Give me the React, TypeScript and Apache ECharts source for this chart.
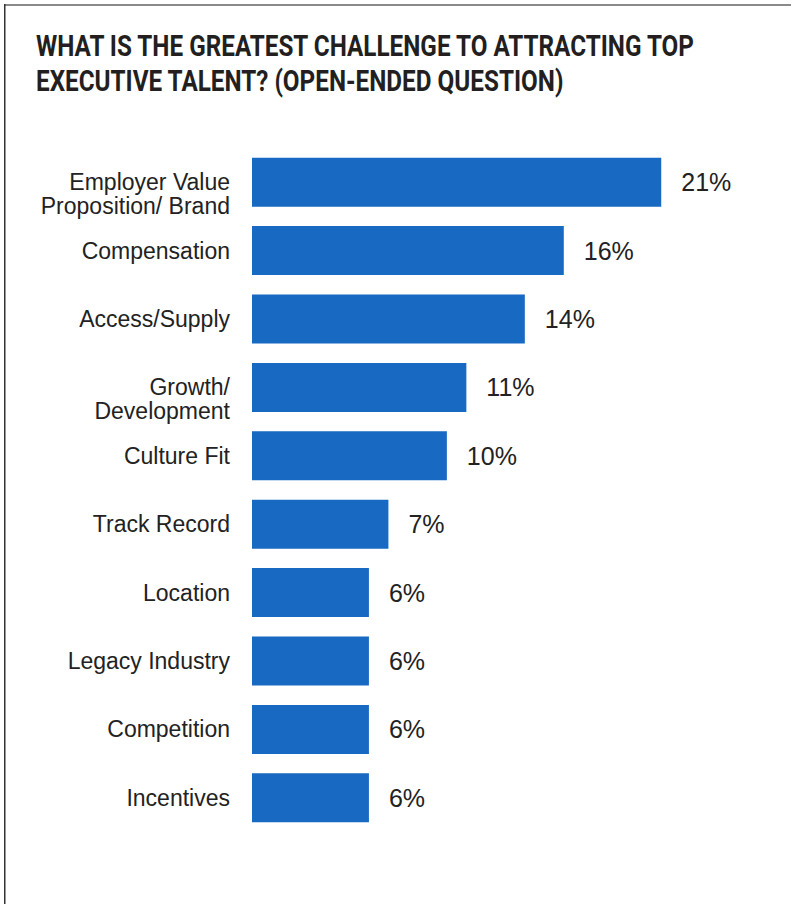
import React, { useEffect, useRef } from "react";
import * as echarts from "echarts";

const categories = [
  "Employer Value\nProposition/ Brand",
  "Compensation",
  "Access/Supply",
  "Growth/\nDevelopment",
  "Culture Fit",
  "Track Record",
  "Location",
  "Legacy Industry",
  "Competition",
  "Incentives",
];
const values = [21, 16, 14, 11, 10, 7, 6, 6, 6, 6];
const titleLines = [
  "WHAT IS THE GREATEST CHALLENGE TO ATTRACTING TOP",
  "EXECUTIVE TALENT? (OPEN-ENDED QUESTION)",
];

const TITLE_FONT = 'bold 29px Roboto, "Liberation Sans", sans-serif';

export default function App() {
  const ref = useRef<HTMLDivElement>(null);
  useEffect(() => {
    document.body.style.margin = "0";
    const cv = document.createElement("canvas").getContext("2d")!;
    cv.font = TITLE_FONT;
    const w = cv.measureText(titleLines[0]).width || 661;
    const sx = 661 / w;
    const chart = echarts.init(ref.current!, null, { renderer: "svg" });
    chart.setOption({
      animation: false,
      backgroundColor: "#ffffff",
      graphic: [
        { type: "rect", shape: { x: 4, y: 4, width: 787, height: 2 }, style: { fill: "#8a8a8a" } },
        { type: "rect", shape: { x: 4, y: 4, width: 1.5, height: 900 }, style: { fill: "#333333" } },
        {
          type: "text",
          x: 36,
          y: 29,
          scaleX: sx,
          style: {
            text: titleLines.join("\n"),
            font: TITLE_FONT,
            lineHeight: 35,
            fill: "#231f20",
          },
        },
      ],
      grid: { left: 252, right: 7, top: 148, height: 684, containLabel: false },
      xAxis: {
        type: "value",
        min: 0,
        max: 27.3,
        show: false,
      },
      yAxis: {
        type: "category",
        inverse: true,
        data: categories,
        axisLine: { show: false },
        axisTick: { show: false },
        splitLine: { show: false },
        axisLabel: {
          margin: 22,
          fontSize: 23,
          lineHeight: 24,
          color: "#222222",
          fontFamily: '"Liberation Sans", Arial, sans-serif',
          formatter: (v: string) => (v.indexOf("\n") >= 0 ? "\n" + v : v),
        },
      },
      series: [
        {
          type: "bar",
          data: values,
          barWidth: 49,
          itemStyle: { color: "#1769c2" },
          label: {
            show: true,
            position: "right",
            distance: 20,
            fontSize: 25,
            color: "#222222",
            fontFamily: '"Liberation Sans", Arial, sans-serif',
            formatter: "{c}%",
          },
        },
      ],
    });
    return () => chart.dispose();
  }, []);
  return <div ref={ref} style={{ width: 791, height: 904 }} />;
}
